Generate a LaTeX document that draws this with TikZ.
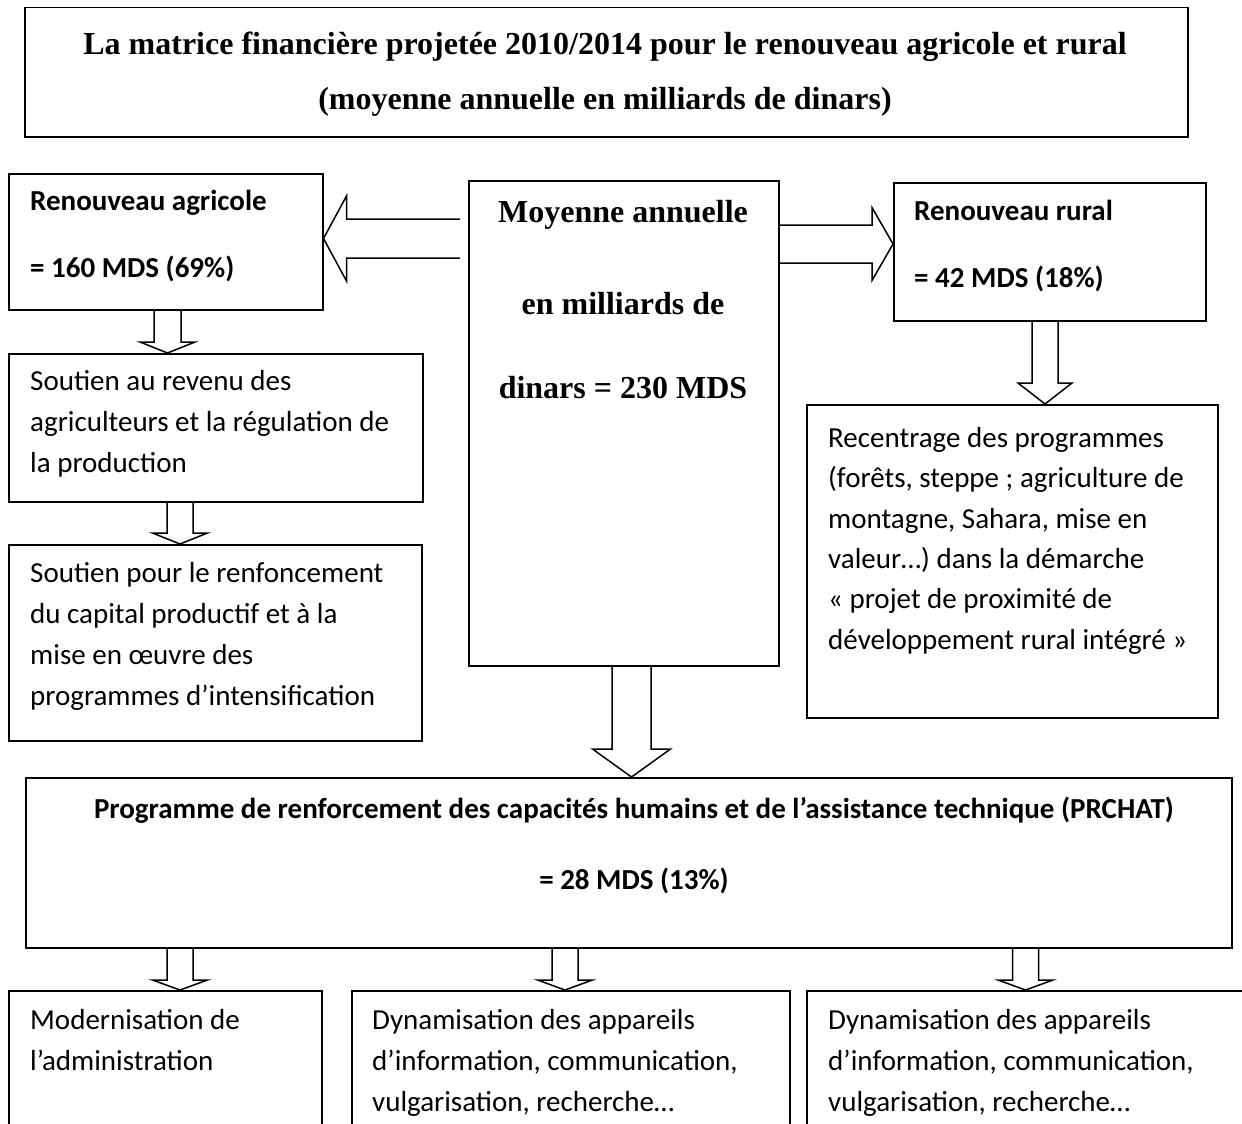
\documentclass[tikz,border=0pt]{standalone}
\usepackage{fontspec}
\setmainfont{Carlito}
\newfontfamily\tnr{Liberation Serif}
\usetikzlibrary{calc}
\newcommand\mystrut{\rule{0pt}{26pt}}
\newcommand\serstrut{\rule{0pt}{30pt}}
% vertical block arrow: source anchor, target anchor, x centre, shaft half width, head half width, head length
\newcommand\dnarrow[6]{%
  \draw[blk] let \p1=(#1), \p2=(#2) in
    ({(#3-#4)*1pt},\y1) -- ({(#3-#4)*1pt},{\y2+#6pt}) -- ({(#3-#5)*1pt},{\y2+#6pt})
    -- ({#3pt},\y2) -- ({(#3+#5)*1pt},{\y2+#6pt}) -- ({(#3+#4)*1pt},{\y2+#6pt})
    -- ({(#3+#4)*1pt},\y1);}
% horizontal block arrow: source, target, y centre, shaft half, head half, head length, direction (+1 right, -1 left)
\newcommand\hzarrow[7]{%
  \draw[blk] let \p1=(#1), \p2=(#2) in
    (\x1,{-(#3-#4)*1pt}) -- ({\x2-(#7)*#6pt},{-(#3-#4)*1pt}) -- ({\x2-(#7)*#6pt},{-(#3-#5)*1pt})
    -- (\x2,{-#3pt}) -- ({\x2-(#7)*#6pt},{-(#3+#5)*1pt}) -- ({\x2-(#7)*#6pt},{-(#3+#4)*1pt})
    -- (\x1,{-(#3+#4)*1pt});}
\tikzset{
  frame/.style={draw, line width=1.5pt, inner sep=0pt, anchor=north west},
  blk/.style={draw, line width=1.5pt, line join=miter},
  txt/.style={inner sep=0pt, anchor=north west, align=left, font=\fontsize{29}{41}\selectfont},
  txtb/.style={inner sep=0pt, anchor=north west, align=left, font=\fontsize{29}{41}\selectfont\bfseries},
  ttl/.style={inner sep=0pt, anchor=north, align=center, font=\tnr\bfseries\fontsize{32}{55}\selectfont},
}
\begin{document}
\begin{tikzpicture}[x=1pt, y=-1pt]
\useasboundingbox (0,0) rectangle (1242,1124);
\fill[white] (0,0) rectangle (1242,1124);

% title
\node[frame, minimum width=1163pt, minimum height=129pt] (T) at (24,7) {};
\node[ttl] (Tt) at (605,24) {\serstrut La matrice financière projetée 2010/2014 pour le renouveau agricole et rural\\(moyenne annuelle en milliards de dinars)};

% boxes
\node[frame, minimum width=314pt, minimum height=136pt] (A) at (8,173) {};
\node[txtb] (At) at (30,184) {\mystrut Renouveau agricole\\[26pt]= 160 MDS (69\%)};

\node[frame, minimum width=310pt, minimum height=485pt] (M) at (468,180) {};
\node[ttl, font=\tnr\bfseries\fontsize{32}{92}\selectfont] (Mt) at (623,192) {\serstrut Moyenne annuelle\\en milliards de\\[-8pt]dinars = 230 MDS};

\node[frame, minimum width=312pt, minimum height=138pt] (R) at (893,182) {};
\node[txtb] (Rt) at (914,194) {\mystrut Renouveau rural\\[26pt]= 42 MDS (18\%)};

\node[frame, minimum width=414pt, minimum height=148pt] (B) at (8,353) {};
\node[txt] (Bt) at (30,364) {\mystrut Soutien au revenu des\\agriculteurs et la régulation de\\la production};

\node[frame, minimum width=413pt, minimum height=196pt] (C) at (8,544) {};
\node[txt] (Ct) at (30,556) {\mystrut Soutien pour le renfoncement\\du capital productif et à la\\mise en œuvre des\\programmes d’intensification};

\node[frame, minimum width=411pt, minimum height=313pt] (R2) at (806,404) {};
\node[txt, font=\fontsize{29}{40.4}\selectfont] (R2t) at (828,421) {\mystrut Recentrage des programmes\\(forêts, steppe ; agriculture de\\montagne, Sahara, mise en\\valeur…) dans la démarche\\« projet de proximité de\\développement rural intégré »};

\node[frame, minimum width=1206pt, minimum height=170pt] (P) at (25,777) {};
\node[txtb, anchor=north, align=center] (Pt) at (634,792) {\mystrut Programme de renforcement des capacités humains et de l’assistance technique (PRCHAT)\\[30pt]= 28 MDS (13\%)};

\node[frame, minimum width=313pt, minimum height=150pt] (D1) at (8,990) {};
\node[txt] (D1t) at (30,1003) {\mystrut Modernisation de\\l’administration};
\node[frame, minimum width=438pt, minimum height=150pt] (D2) at (351,990) {};
\node[txt] (D2t) at (372,1003) {\mystrut Dynamisation des appareils\\d’information, communication,\\vulgarisation, recherche…};
\node[frame, minimum width=460pt, minimum height=150pt] (D3) at (806,990) {};
\node[txt] (D3t) at (828,1003) {\mystrut Dynamisation des appareils\\d’information, communication,\\vulgarisation, recherche…};

% block arrows
\hzarrow{$(M.west)+(-8,0)$}{A.east}{238.5}{19.5}{42.5}{23}{-1}
\hzarrow{M.east}{R.west}{244}{19}{36.5}{21}{1}
\dnarrow{A.south}{B.north}{167.5}{13.5}{27.5}{11}
\dnarrow{B.south}{C.north}{180}{13}{27.5}{11}
\dnarrow{R.south}{R2.north}{1045}{13}{27}{21}
\dnarrow{M.south}{P.north}{631.5}{19.5}{39}{28}
\dnarrow{P.south}{D1.north}{180}{13}{27.5}{10}
\dnarrow{P.south}{D2.north}{565}{13}{27.5}{10}
\dnarrow{P.south}{D3.north}{1025.5}{13}{27.5}{10}
\end{tikzpicture}
\end{document}
